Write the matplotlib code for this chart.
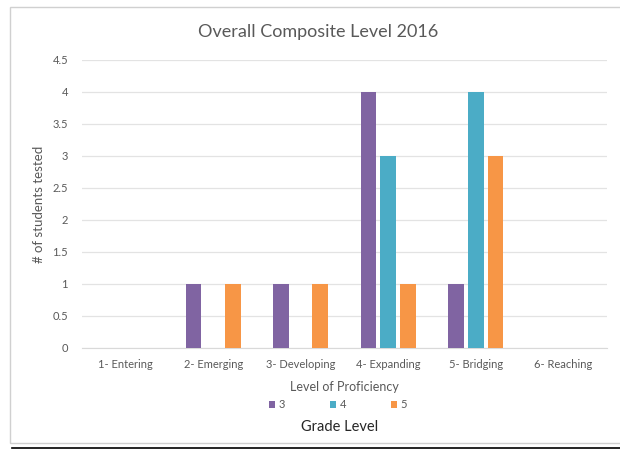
import numpy as np
import matplotlib.pyplot as plt
from matplotlib.patches import Rectangle
from matplotlib.lines import Line2D

levels = ["1- Entering", "2- Emerging", "3- Developing", "4- Expanding", "5- Bridging", "6- Reaching"]
grades = ["3", "4", "5"]
grade3 = [0, 1, 1, 4, 1, 0]
grade4 = [0, 0, 0, 3, 4, 0]
grade5 = [0, 1, 1, 1, 3, 0]
yticks = [0, 0.5, 1, 1.5, 2, 2.5, 3, 3.5, 4, 4.5]

colors = ["#8064A2", "#4BACC6", "#F79646"]
txt = "#595959"

plt.rcParams["font.family"] = ["Lato", "DejaVu Sans"]

fig = plt.figure(figsize=(6.2, 4.5), dpi=100)
ax = fig.add_axes([0.132, 0.2267, 0.847, 0.64])

x = np.arange(len(levels))
width = 0.18
offset = 0.225
for i, (vals, c, g) in enumerate(zip([grade3, grade4, grade5], colors, grades)):
    ax.bar(x + (i - 1) * offset, vals, width, color=c, label=g, zorder=3)

ax.set_xlim(-0.5, len(levels) - 0.5)
ax.set_ylim(0, 4.5)
ax.set_yticks(yticks)
ax.set_yticklabels([f"{t:g}" for t in yticks])
ax.set_xticks(x)
ax.set_xticklabels(levels)
ax.tick_params(axis="both", length=0, labelsize=8, labelcolor=txt, pad=10)
ax.tick_params(axis="x", pad=8)
ax.grid(axis="y", color="#E3E3E3", linewidth=0.9, zorder=0)
for s in ["top", "right", "left"]:
    ax.spines[s].set_visible(False)
ax.spines["bottom"].set_color("#D9D9D9")

ax.set_ylabel("# of students tested", fontsize=9.5, color=txt, labelpad=5)
ax.set_xlabel("Level of Proficiency", fontsize=9, color=txt, labelpad=8)

fig.text(0.513, 0.93, "Overall Composite Level 2016", ha="center", va="center",
         fontsize=13, color=txt)

handles, labels = ax.get_legend_handles_labels()
fig.legend(handles, labels, loc="center", bbox_to_anchor=(0.545, 0.1), ncol=3,
           frameon=False, fontsize=8, labelcolor=txt, handlelength=0.6,
           handleheight=0.6, handletextpad=0.3, columnspacing=4.0)
fig.text(0.547, 0.051, "Grade Level", ha="center", va="center", fontsize=10.5,
         color="#262626")

# outer chart frame and bottom rule
fig.add_artist(Rectangle((10 / 620, 7 / 450), 620 / 620, 436 / 450,
                         transform=fig.transFigure, fill=False,
                         edgecolor="#D0D0D0", linewidth=1))
fig.add_artist(Line2D([12 / 620, 1.0], [2 / 450, 2 / 450], transform=fig.transFigure,
                      color="black", linewidth=1.2))

fig.savefig("out.png", dpi=100)
